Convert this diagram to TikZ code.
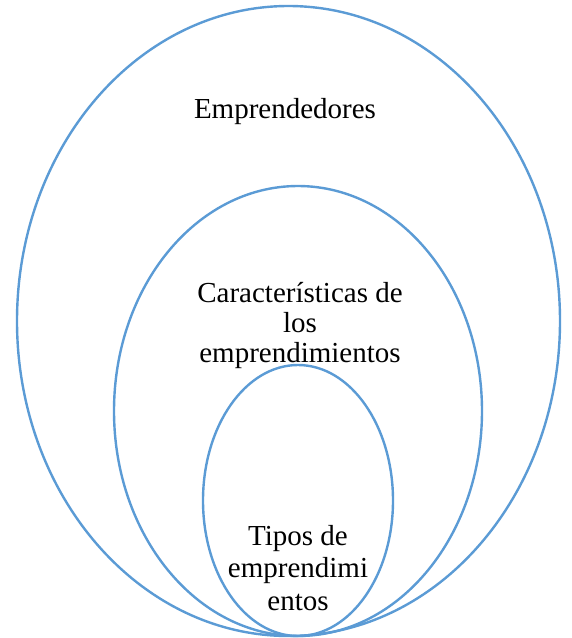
\documentclass[tikz,border=0pt]{standalone}
\usepackage{fontspec}
\setmainfont{Liberation Serif}
\definecolor{ringblue}{HTML}{5B9BD5}
\tikzset{ring/.style={draw=ringblue,line width=2.4pt},
 label/.style={inner sep=0pt,align=center,font=\fontsize{29}{32.5}\selectfont}}
\begin{document}
\begin{tikzpicture}[x=1pt,y=-1pt]
 \useasboundingbox(0,0)rectangle(571,638);
 \draw[ring](288.5,321)circle(271.5 and 315);
 \draw[ring](298,411)circle(184 and 225);
 \draw[ring](298,500.5)circle(95 and 135.5);
 \node[label,anchor=base](E)at(285,118){Emprendedores};
 \node[label,anchor=base,font=\fontsize{29}{30}\selectfont](C)at(300,362){Características de\\los\\emprendimientos};
 \node[label,anchor=base](T)at(298,610){Tipos de\\emprendimi\\entos};
\end{tikzpicture}
\end{document}
